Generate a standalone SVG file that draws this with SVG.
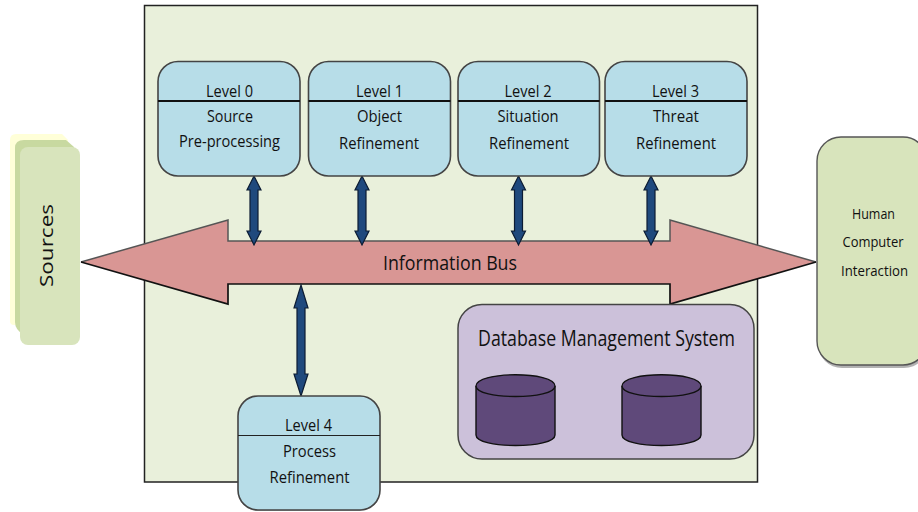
<svg xmlns="http://www.w3.org/2000/svg" width="918" height="512" viewBox="0 0 918 512">
<defs>
<style>
text{font-family:"Open Sans","Noto Sans","Liberation Sans",sans-serif;fill:#111;text-anchor:middle;font-size:17px}
.lvl{fill:#b7dde8;stroke:#444;stroke-width:1.600}
.div{stroke:#111;stroke-width:2}
.dbl{fill:#1f497d;stroke:#0c1c33;stroke-width:1.200}
.cyl{fill:#5f497a;stroke:#111;stroke-width:1.400}
</style>
</defs>
<rect id="frame" x="144.500" y="5.500" width="613" height="476.500" fill="#e9f0db" stroke="#222" stroke-width="1.500"/>
<g id="sources">
<path d="M16 134H62L68 140V325H14Q10 325 10 321V140Q10 134 16 134Z" fill="#ffffd8"/>
<path d="M24 140H66L74 147V335H24Q15 330 15 322V148Q15 140 24 140Z" fill="#c8d9a0"/>
<rect x="20" y="147" width="60" height="198" rx="8" fill="#d8e4bc"/>
<text transform="translate(53 245.500) rotate(-90)" textLength="83" lengthAdjust="spacingAndGlyphs" style="font-size:18px">Sources</text>
</g>
<g id="hci">
<rect x="818" y="139" width="110" height="229" rx="24" fill="#000" opacity=".3"/>
<rect x="817" y="137" width="110" height="228" rx="24" fill="#d8e4bc" stroke="#555" stroke-width="1.400"/>
<text x="873.500" y="219" textLength="43" lengthAdjust="spacingAndGlyphs" style="font-size:14.500px">Human</text>
<text x="873" y="247" textLength="61" lengthAdjust="spacingAndGlyphs" style="font-size:14.500px">Computer</text>
<text x="874.500" y="276" textLength="67" lengthAdjust="spacingAndGlyphs" style="font-size:14.500px">Interaction</text>
</g>
<g id="information-bus">
<path d="M81 262L228 220V241H670V220L816 262L670 304V284H228V304Z" fill="#d99694"/>
<path d="M81 262L228 220V241H670V220L816 262" fill="none" stroke="#555" stroke-width="1.500"/>
<path d="M81 262L228 304V284H670V304L816 262" fill="none" stroke="#111" stroke-width="1.700"/>
<text x="450" y="269.500" textLength="134" lengthAdjust="spacingAndGlyphs" style="font-size:20px">Information Bus</text>
</g>
<g id="database">
<rect x="458" y="304.500" width="296" height="154.500" rx="24" fill="#ccc1da" stroke="#444" stroke-width="1.500"/>
<text x="606.500" y="346" textLength="257" lengthAdjust="spacingAndGlyphs" style="font-size:21px">Database Management System</text>
<g id="db-1">
<path class="cyl" d="M476 386C476 371 555 371 555 386V435C555 449 476 449 476 435Z"/>
<path class="cyl" fill="none" d="M476 386C476 400 555 400 555 386"/>
</g>
<g id="db-2">
<path class="cyl" d="M622 386C622 371 701 371 701 386V435C701 449 622 449 622 435Z"/>
<path class="cyl" fill="none" d="M622 386C622 400 701 400 701 386"/>
</g>
</g>
<g id="connectors">
<path class="dbl" id="c0" d="M254 176L261 190H258V231H261L254 245L247 231H250V190H247Z"/>
<path class="dbl" id="c1" d="M362 176L369 190H366V231H369L362 245L355 231H358V190H355Z"/>
<path class="dbl" id="c2" d="M518.500 176L525.500 190H522.500V231H525.500L518.500 245L511.500 231H514.500V190H511.500Z"/>
<path class="dbl" id="c3" d="M651 176L658 190H655V231H658L651 245L644 231H647V190H644Z"/>
<path class="dbl" id="c4" d="M301 285L308 308H305V374H308L301 396L294 374H297V308H294Z"/>
</g>
<g id="level-0">
<rect class="lvl" x="158" y="61.500" width="142" height="114.500" rx="20"/>
<line class="div" x1="158" y1="101" x2="300" y2="101"/>
<text x="229.500" y="97" textLength="47" lengthAdjust="spacingAndGlyphs">Level 0</text>
<text x="230" y="122" textLength="46" lengthAdjust="spacingAndGlyphs">Source</text>
<text x="229.500" y="147" textLength="101" lengthAdjust="spacingAndGlyphs">Pre-processing</text>
</g>
<g id="level-1">
<rect class="lvl" x="308.500" y="61.500" width="142" height="114.500" rx="20"/>
<line class="div" x1="308.500" y1="101" x2="450.500" y2="101"/>
<text x="379.500" y="97" textLength="47" lengthAdjust="spacingAndGlyphs">Level 1</text>
<text x="379.500" y="122" textLength="45" lengthAdjust="spacingAndGlyphs">Object</text>
<text x="379" y="148.500" textLength="80" lengthAdjust="spacingAndGlyphs">Refinement</text>
</g>
<g id="level-2">
<rect class="lvl" x="458" y="61.500" width="141.500" height="114.500" rx="20"/>
<line class="div" x1="458" y1="101" x2="599.500" y2="101"/>
<text x="528" y="97" textLength="47" lengthAdjust="spacingAndGlyphs">Level 2</text>
<text x="528" y="122" textLength="61" lengthAdjust="spacingAndGlyphs">Situation</text>
<text x="529" y="148.500" textLength="80" lengthAdjust="spacingAndGlyphs">Refinement</text>
</g>
<g id="level-3">
<rect class="lvl" x="605" y="61.500" width="142" height="114.500" rx="20"/>
<line class="div" x1="605" y1="101" x2="747" y2="101"/>
<text x="675.500" y="97" textLength="47" lengthAdjust="spacingAndGlyphs">Level 3</text>
<text x="676" y="122" textLength="46" lengthAdjust="spacingAndGlyphs">Threat</text>
<text x="676" y="148.500" textLength="80" lengthAdjust="spacingAndGlyphs">Refinement</text>
</g>
<g id="level-4">
<rect x="238" y="397" width="142" height="114" rx="20" fill="#000" opacity=".25"/>
<rect class="lvl" x="238" y="396" width="142" height="114" rx="20"/>
<line x1="238" y1="435.500" x2="380" y2="435.500" stroke="#222" stroke-width="1.200"/>
<text x="308.500" y="431" textLength="47" lengthAdjust="spacingAndGlyphs">Level 4</text>
<text x="309.500" y="456.500" textLength="53" lengthAdjust="spacingAndGlyphs">Process</text>
<text x="309.500" y="482.500" textLength="80" lengthAdjust="spacingAndGlyphs">Refinement</text>
</g>
</svg>
